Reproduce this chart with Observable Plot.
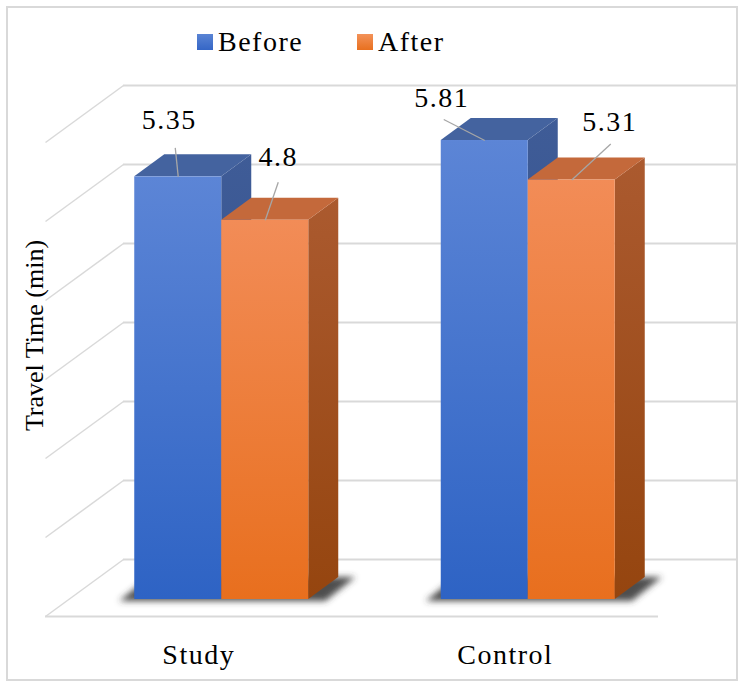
<!DOCTYPE html>
<html>
<head>
<meta charset="utf-8">
<script src="https://cdn.jsdelivr.net/npm/d3@7"></script>
<script src="https://cdn.jsdelivr.net/npm/@observablehq/plot@0.6"></script>
<style>
  html, body { margin: 0; padding: 0; background: #fff; }
  #chart { position: relative; width: 743px; height: 685px; font-family: "Liberation Serif", "Times New Roman", serif; }
  #chart svg { position: absolute; left: 0; top: 0; }
  .frame { position: absolute; left: 6px; top: 6px; width: 732px; height: 675px; border: 2px solid #d9d9d9; box-sizing: border-box; pointer-events: none; }
  .legend-item { position: absolute; top: 26px; height: 32px; display: flex; align-items: center; font-size: 28px; letter-spacing: 1.5px; line-height: 1; color: #000; }
  .swatch { width: 16px; height: 16px; margin-right: 5px; }
</style>
</head>
<body>
<div id="chart"></div>
<script>
// Travel time before/after, per group
const categories = ["Study", "Control"];
const seriesNames = ["Before", "After"];
const beforeValues = [5.35, 5.81];
const afterValues = [4.8, 5.31];
const yTicks = [0, 1, 2, 3, 4, 5, 6];
const yTitle = "Travel Time (min)";

// Colours for each series: front gradient (top, bottom), top face, side gradient (top, bottom)
const palette = {
  Before: {front: ["#5c85d6", "#2e63c4"], top: "#44639f", side: ["#3f5c97", "#2c4b8a"], swatch: ["#5a84d4", "#3566c6"]},
  After:  {front: ["#f28c57", "#e86f1e"], top: "#c4693b", side: ["#ab5a2f", "#95450f"], swatch: ["#f39259", "#e8701f"]}
};

// Layout (pixels)
const W = 743, H = 685;
const M = {left: 68, right: 62, top: 125, bottom: 86};
const kx = (W - M.left - M.right) / 2;      // px per x unit (one unit per category)
const ky = (H - M.top - M.bottom) / 6;      // px per minute
const barPx = 87;                           // bar width
const depthPx = [30, 22];                   // bar extrusion (right, up)
const floorFront = [-23, 17];               // floor front edge relative to bar fronts
const backWall = [55, -40];                 // back wall relative to bar fronts
const labelOffsets = [[-9, -57], [13, -63], [-43, -42], [38, -58]];
const leaderStarts = [[-3, -29], [13, -38], [-41, -21], [39, -36]];
const font = "Liberation Serif";
const textSize = 28;
const textSpacing = "1.5px";
const grid = "#d9d9d9";

const barW = barPx / kx, ddx = depthPx[0] / kx, ddy = depthPx[1] / ky;

// One row per bar
const bars = [];
categories.forEach((c, i) => {
  seriesNames.forEach((s, j) => {
    const value = (j === 0 ? beforeValues : afterValues)[i];
    const x1 = i + 0.5 + (j === 0 ? -barW : 0);
    bars.push({category: c, series: s, value, x1, x2: x1 + barW, xc: x1 + barW / 2});
  });
});
bars.forEach((b, k) => { b.label = labelOffsets[k]; b.lead = leaderStarts[k]; });

// Polygons for the extruded faces, as areas (x, y1, y2)
function topFace(b) {
  const v = b.value, id = b.category + b.series;
  return [
    {id, x: b.x1, y1: v, y2: v},
    {id, x: b.x1 + ddx, y1: v, y2: v + ddy},
    {id, x: b.x2, y1: v, y2: v + ddy},
    {id, x: b.x2 + ddx, y1: v + ddy, y2: v + ddy}
  ];
}
function sideFace(b) {
  const id = b.category + b.series;
  return [
    {id, x: b.x2, y1: 0, y2: b.value},
    {id, x: b.x2 + ddx, y1: ddy, y2: b.value + ddy}
  ];
}
// Soft shadow cast on the floor under each pair of bars
const shadows = categories.flatMap((c, i) => {
  const a = i + 0.5 - barW - 15 / kx, b = i + 0.5 + barW + 17 / kx, lo = -2 / ky;
  return [
    {id: c, x: a, y1: lo, y2: lo},
    {id: c, x: a + ddx, y1: lo, y2: ddy},
    {id: c, x: b, y1: lo, y2: ddy},
    {id: c, x: b + ddx, y1: ddy, y2: ddy}
  ];
});

const barMarks = seriesNames.flatMap(s => {
  const rows = bars.filter(b => b.series === s);
  return [
    Plot.areaY(rows.flatMap(sideFace), {x: "x", y1: "y1", y2: "y2", z: "id", fill: `url(#side-${s})`}),
    Plot.areaY(rows.flatMap(topFace), {x: "x", y1: "y1", y2: "y2", z: "id", fill: palette[s].top}),
    Plot.rect(rows, {x1: "x1", x2: "x2", y1: 0, y2: "value", fill: `url(#front-${s})`})
  ];
});

const labelMarks = bars.flatMap(b => [
  Plot.link([b], {
    x1: d => d.xc + d.lead[0] / kx, y1: d => d.value - d.lead[1] / ky,
    x2: "xc", y2: "value", stroke: "#a6a6a6", strokeWidth: 1.3
  }),
  Plot.text([b], {
    x: "xc", y: "value", text: d => String(d.value),
    dx: b.label[0], dy: b.label[1], fontSize: textSize, fontFamily: font, fill: "#000"
  })
]);

const svg = Plot.plot({
  width: W, height: H,
  marginLeft: M.left, marginRight: M.right, marginTop: M.top, marginBottom: M.bottom,
  x: {domain: [0, 2], axis: null},
  y: {domain: [0, 6], axis: null},
  style: {background: "transparent", overflow: "visible", fontFamily: font},
  marks: [
    // back wall gridlines
    Plot.ruleY(yTicks, {x1: 0, x2: 2, dx: backWall[0], dy: backWall[1], stroke: grid, strokeWidth: 2}),
    // side wall gridlines
    Plot.link(yTicks, {
      x1: floorFront[0] / kx, y1: v => v - floorFront[1] / ky,
      x2: backWall[0] / kx, y2: v => v - backWall[1] / ky,
      stroke: grid, strokeWidth: 1.5
    }),
    // floor front edge
    Plot.ruleY([0], {x1: 0, x2: 2, dx: floorFront[0], dy: floorFront[1], stroke: grid, strokeWidth: 2}),
    // floor shadows (first area mark; blurred below)
    Plot.areaY(shadows, {x: "x", y1: "y1", y2: "y2", z: "id", fill: "#3a3a3a", fillOpacity: 0.9}),
    ...barMarks,
    ...labelMarks,
    // category labels on the floor's front edge
    Plot.text(categories, {
      x: (d, i) => i + 0.5, y: 0, text: d => d,
      dx: floorFront[0], dy: 56, fontSize: textSize, fontFamily: font, fill: "#000"
    }),
    // y axis title
    Plot.text([yTitle], {
      frameAnchor: "left", textAnchor: "middle", lineAnchor: "middle", text: d => d, rotate: -90,
      dx: -34, dy: -27, fontSize: 26, fontFamily: font, fill: "#000"
    })
  ]
});

// slightly wider tracking for the value and category labels
svg.querySelectorAll('g[aria-label="text"]').forEach(g => {
  if (g.getAttribute("font-size") === String(textSize)) g.setAttribute("letter-spacing", textSpacing);
});

// gradients and blur used by the faces and shadows
const defs = d3.select(svg).insert("defs", ":first-child");
function vGrad(id, c0, c1) {
  const g = defs.append("linearGradient").attr("id", id).attr("x1", 0).attr("y1", 0).attr("x2", 0).attr("y2", 1);
  g.append("stop").attr("offset", "0%").attr("stop-color", c0);
  g.append("stop").attr("offset", "100%").attr("stop-color", c1);
}
seriesNames.forEach(s => {
  vGrad(`front-${s}`, ...palette[s].front);
  vGrad(`side-${s}`, ...palette[s].side);
});
defs.append("filter").attr("id", "shadowBlur")
  .attr("x", "-30%").attr("y", "-60%").attr("width", "160%").attr("height", "220%")
  .append("feGaussianBlur").attr("stdDeviation", 3);
const sh = svg.querySelector('g[aria-label="area"]');
if (sh) sh.setAttribute("filter", "url(#shadowBlur)");

const chart = document.getElementById("chart");
chart.appendChild(svg);

// legend
const legendLeft = [197, 357];
seriesNames.forEach((s, j) => {
  const item = document.createElement("div");
  item.className = "legend-item";
  item.style.left = legendLeft[j] + "px";
  const sw = document.createElement("div");
  sw.className = "swatch";
  sw.style.background = `linear-gradient(${palette[s].swatch[0]}, ${palette[s].swatch[1]})`;
  const tx = document.createElement("span");
  tx.textContent = s;
  item.appendChild(sw);
  item.appendChild(tx);
  chart.appendChild(item);
});

const frame = document.createElement("div");
frame.className = "frame";
chart.appendChild(frame);
</script>
</body>
</html>
